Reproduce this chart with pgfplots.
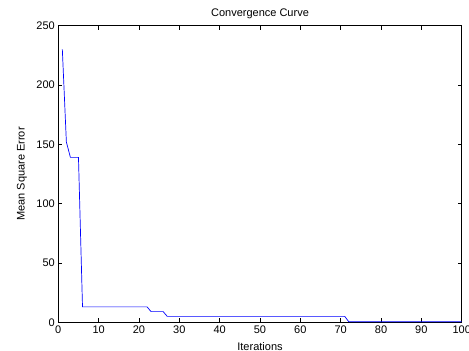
\documentclass[border=0pt]{standalone}
\usepackage{fontspec}
\setmainfont{Liberation Sans}
\usepackage{pgfplots}
\pgfplotsset{compat=1.18}
\begin{document}
\begin{tikzpicture}
\useasboundingbox (-58.3pt,-28.7pt) rectangle (410.7pt,322.3pt);
\begin{axis}[
  at={(0,0)}, anchor=south west,
  scale only axis, width=403.4pt, height=296.6pt,
  xmin=0, xmax=100, ymin=0, ymax=250,
  xtick={0,10,...,100}, ytick={0,50,...,250},
  tick align=inside, major tick length=4pt,
  axis line style={black, line width=0.8pt},
  tick style={black, line width=0.6pt},
  ticklabel style={font=\fontsize{11}{13}\selectfont},
  /pgf/number format/assume math mode=true,
  scaled ticks=false,
  title={Convergence Curve},
  title style={font=\fontsize{11}{13}\selectfont, at={(axis description cs:0.5,1)}, anchor=base, yshift=3.5pt},
  xlabel={Iterations},
  xlabel style={font=\fontsize{11}{13}\selectfont, at={(axis description cs:0.5,0)}, anchor=center, yshift=-24pt},
  ylabel={Mean Square Error},
  ylabel style={font=\fontsize{11}{13}\selectfont, at={(axis description cs:-0.09,0.5)}, anchor=center, rotate=0},
]
\addplot[blue, line width=0.7pt] coordinates {
(1,230) (2,152) (3,139) (5,139) (6,13) (22,13) (23,9) (26,9) (27,5) (71,5) (72,0.5) (100,0.5)
};
\end{axis}
\end{tikzpicture}
\end{document}
